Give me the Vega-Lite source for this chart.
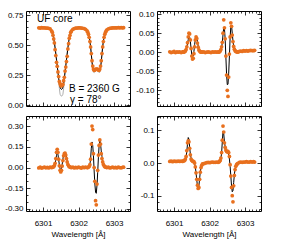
{
"$schema": "https://vega.github.io/schema/vega-lite/v6.json",
"padding": {"left": 4, "top": 9, "right": 0, "bottom": 0},
"background": "white",
"config": {
 "view": {"stroke": "black", "strokeWidth": 1},
 "axis": {"domain": false, "grid": false, "tickColor": "black", "tickWidth": 0.8, "labelFont": "Liberation Sans", "labelFontSize": 8, "labelColor": "black", "titleFont": "Liberation Sans", "titleFontSize": 8, "titleFontWeight": "normal", "titleColor": "black", "labelOverlap": false, "labelFlush": false}
},
"datasets": {
 "I": [
  {"w":6300.88,"o":0.645,"f":0.646,"g":0.652},{"w":6300.92,"o":0.643,"f":0.646,"g":0.652},{"w":6300.96,"o":0.646,"f":0.645,"g":0.651},{"w":6301.00,"o":0.644,"f":0.645,"g":0.651},{"w":6301.04,"o":0.645,"f":0.644,"g":0.65},{"w":6301.08,"o":0.643,"f":0.644,"g":0.65},{"w":6301.12,"o":0.642,"f":0.643,"g":0.649},{"w":6301.16,"o":0.641,"f":0.641,"g":0.647},{"w":6301.20,"o":0.635,"f":0.636,"g":0.642},{"w":6301.24,"o":0.62,"f":0.625,"g":0.632},
  {"w":6301.26,"o":0.608,"f":0.61,"g":0.618},{"w":6301.28,"o":0.583,"f":0.59,"g":0.6},{"w":6301.30,"o":0.552,"f":0.56,"g":0.57},{"w":6301.32,"o":0.518,"f":0.52,"g":0.535},{"w":6301.34,"o":0.462,"f":0.475,"g":0.49},{"w":6301.36,"o":0.413,"f":0.425,"g":0.44},{"w":6301.38,"o":0.357,"f":0.375,"g":0.385},{"w":6301.40,"o":0.323,"f":0.325,"g":0.33},{"w":6301.42,"o":0.276,"f":0.275,"g":0.275},{"w":6301.44,"o":0.238,"f":0.225,"g":0.21},{"w":6301.46,"o":0.197,"f":0.18,"g":0.14},{"w":6301.48,"o":0.178,"f":0.15,"g":0.09},{"w":6301.50,"o":0.163,"f":0.135,"g":0.078},{"w":6301.52,"o":0.16,"f":0.13,"g":0.075},{"w":6301.54,"o":0.168,"f":0.135,"g":0.078},{"w":6301.56,"o":0.172,"f":0.15,"g":0.09},{"w":6301.58,"o":0.203,"f":0.18,"g":0.14},{"w":6301.60,"o":0.232,"f":0.225,"g":0.21},{"w":6301.62,"o":0.284,"f":0.275,"g":0.275},{"w":6301.64,"o":0.317,"f":0.325,"g":0.33},{"w":6301.66,"o":0.363,"f":0.375,"g":0.385},{"w":6301.68,"o":0.407,"f":0.425,"g":0.44},{"w":6301.70,"o":0.468,"f":0.475,"g":0.49},{"w":6301.72,"o":0.512,"f":0.52,"g":0.535},{"w":6301.74,"o":0.558,"f":0.56,"g":0.57},{"w":6301.76,"o":0.582,"f":0.59,"g":0.6},{"w":6301.78,"o":0.607,"f":0.61,"g":0.618},{"w":6301.80,"o":0.618,"f":0.625,"g":0.632},
  {"w":6301.84,"o":0.632,"f":0.636,"g":0.642},{"w":6301.88,"o":0.638,"f":0.64,"g":0.647},{"w":6301.92,"o":0.642,"f":0.643,"g":0.65},{"w":6301.96,"o":0.643,"f":0.644,"g":0.651},{"w":6302.00,"o":0.645,"f":0.645,"g":0.652},{"w":6302.04,"o":0.644,"f":0.645,"g":0.652},{"w":6302.08,"o":0.643,"f":0.644,"g":0.651},{"w":6302.12,"o":0.641,"f":0.642,"g":0.649},{"w":6302.16,"o":0.638,"f":0.639,"g":0.646},{"w":6302.20,"o":0.632,"f":0.633,"g":0.64},{"w":6302.24,"o":0.62,"f":0.622,"g":0.628},
  {"w":6302.26,"o":0.608,"f":0.61,"g":0.615},{"w":6302.28,"o":0.59,"f":0.592,"g":0.6},{"w":6302.30,"o":0.565,"f":0.567,"g":0.575},{"w":6302.32,"o":0.53,"f":0.532,"g":0.54},{"w":6302.34,"o":0.485,"f":0.485,"g":0.49},{"w":6302.36,"o":0.43,"f":0.425,"g":0.425},{"w":6302.38,"o":0.37,"f":0.36,"g":0.35},{"w":6302.40,"o":0.325,"f":0.315,"g":0.3},{"w":6302.42,"o":0.3,"f":0.292,"g":0.275},{"w":6302.44,"o":0.29,"f":0.285,"g":0.27},{"w":6302.46,"o":0.292,"f":0.29,"g":0.28},{"w":6302.48,"o":0.298,"f":0.298,"g":0.29},{"w":6302.50,"o":0.3,"f":0.302,"g":0.295},{"w":6302.52,"o":0.3,"f":0.302,"g":0.295},{"w":6302.54,"o":0.298,"f":0.298,"g":0.29},{"w":6302.56,"o":0.292,"f":0.29,"g":0.28},{"w":6302.58,"o":0.29,"f":0.285,"g":0.27},{"w":6302.60,"o":0.3,"f":0.292,"g":0.275},{"w":6302.62,"o":0.325,"f":0.315,"g":0.3},{"w":6302.64,"o":0.37,"f":0.36,"g":0.35},{"w":6302.66,"o":0.43,"f":0.425,"g":0.425},{"w":6302.68,"o":0.485,"f":0.485,"g":0.49},{"w":6302.70,"o":0.53,"f":0.532,"g":0.54},{"w":6302.72,"o":0.565,"f":0.567,"g":0.575},{"w":6302.74,"o":0.59,"f":0.592,"g":0.6},{"w":6302.76,"o":0.608,"f":0.61,"g":0.615},{"w":6302.78,"o":0.62,"f":0.622,"g":0.628},{"w":6302.80,"o":0.628,"f":0.63,"g":0.635},
  {"w":6302.84,"o":0.636,"f":0.637,"g":0.643},{"w":6302.88,"o":0.64,"f":0.641,"g":0.648},{"w":6302.92,"o":0.642,"f":0.643,"g":0.651},{"w":6302.96,"o":0.644,"f":0.644,"g":0.653},{"w":6303.00,"o":0.645,"f":0.645,"g":0.654},{"w":6303.04,"o":0.644,"f":0.645,"g":0.655},{"w":6303.08,"o":0.645,"f":0.646,"g":0.655},{"w":6303.12,"o":0.646,"f":0.646,"g":0.656},{"w":6303.16,"o":0.645,"f":0.646,"g":0.656},{"w":6303.20,"o":0.646,"f":0.646,"g":0.656},{"w":6303.24,"o":0.645,"f":0.646,"g":0.656},{"w":6303.27,"o":0.646,"f":0.646,"g":0.656}
 ],
 "Q": [
  {"w":6300.88,"o":0.001,"f":0},{"w":6300.92,"o":-0.001,"f":0},{"w":6300.96,"o":0,"f":0},{"w":6301.00,"o":0.002,"f":0},{"w":6301.04,"o":-0.001,"f":0},{"w":6301.08,"o":0.001,"f":0},{"w":6301.12,"o":0,"f":0},{"w":6301.16,"o":0.001,"f":0},{"w":6301.20,"o":-0.001,"f":0},{"w":6301.24,"o":0.001,"f":0},
  {"w":6301.26,"o":0.001,"f":0},{"w":6301.28,"o":0,"f":0.001},{"w":6301.30,"o":0.002,"f":0.002},{"w":6301.32,"o":0.003,"f":0.004},{"w":6301.34,"o":0.007,"f":0.007},{"w":6301.36,"o":0.014,"f":0.013},{"w":6301.38,"o":0.025,"f":0.022},{"w":6301.40,"o":0.04,"f":0.033},{"w":6301.42,"o":0.05,"f":0.041},{"w":6301.44,"o":0.048,"f":0.04},{"w":6301.46,"o":0.032,"f":0.028},{"w":6301.48,"o":0.01,"f":0.01},{"w":6301.50,"o":-0.01,"f":-0.006},{"w":6301.52,"o":-0.018,"f":-0.012},{"w":6301.54,"o":-0.016,"f":-0.01},{"w":6301.56,"o":-0.004,"f":0.002},{"w":6301.58,"o":0.014,"f":0.02},{"w":6301.60,"o":0.032,"f":0.034},{"w":6301.62,"o":0.04,"f":0.041},{"w":6301.64,"o":0.036,"f":0.038},{"w":6301.66,"o":0.024,"f":0.028},{"w":6301.68,"o":0.013,"f":0.016},{"w":6301.70,"o":0.006,"f":0.008},{"w":6301.72,"o":0.003,"f":0.004},{"w":6301.74,"o":0.001,"f":0.002},{"w":6301.76,"o":0,"f":0.001},{"w":6301.78,"o":0.001,"f":0},{"w":6301.80,"o":0,"f":0},
  {"w":6301.84,"o":0.001,"f":0},{"w":6301.88,"o":-0.001,"f":0},{"w":6301.92,"o":0,"f":0},{"w":6301.96,"o":0.001,"f":0},{"w":6302.00,"o":0,"f":0},{"w":6302.04,"o":-0.001,"f":0},{"w":6302.08,"o":0.001,"f":0},{"w":6302.12,"o":0,"f":0},{"w":6302.16,"o":0.001,"f":0},{"w":6302.20,"o":0,"f":0},{"w":6302.24,"o":0.001,"f":0},
  {"w":6302.26,"o":0,"f":0},{"w":6302.28,"o":0.001,"f":0.001},{"w":6302.30,"o":0.003,"f":0.003},{"w":6302.32,"o":0.007,"f":0.006},{"w":6302.34,"o":0.014,"f":0.013},{"w":6302.36,"o":0.026,"f":0.025},{"w":6302.38,"o":0.05,"f":0.046},{"w":6302.40,"o":0.085,"f":0.064},{"w":6302.42,"o":0.064,"f":0.062},{"w":6302.44,"o":0.035,"f":0.035},{"w":6302.46,"o":-0.01,"f":-0.012},{"w":6302.48,"o":-0.06,"f":-0.058},{"w":6302.50,"o":-0.1,"f":-0.085},{"w":6302.52,"o":-0.116,"f":-0.084},{"w":6302.54,"o":-0.065,"f":-0.055},{"w":6302.56,"o":-0.005,"f":-0.01},{"w":6302.58,"o":0.04,"f":0.038},{"w":6302.60,"o":0.077,"f":0.068},{"w":6302.62,"o":0.068,"f":0.07},{"w":6302.64,"o":0.045,"f":0.05},{"w":6302.66,"o":0.028,"f":0.03},{"w":6302.68,"o":0.015,"f":0.016},{"w":6302.70,"o":0.008,"f":0.008},{"w":6302.72,"o":0.004,"f":0.004},{"w":6302.74,"o":0.002,"f":0.002},{"w":6302.76,"o":0.001,"f":0.001},{"w":6302.78,"o":0.001,"f":0},{"w":6302.80,"o":0,"f":0},
  {"w":6302.84,"o":0.002,"f":0.001},{"w":6302.88,"o":0.003,"f":0.002},{"w":6302.92,"o":0.002,"f":0.002},{"w":6302.96,"o":0.004,"f":0.003},{"w":6303.00,"o":0.003,"f":0.003},{"w":6303.04,"o":0.004,"f":0.003},{"w":6303.08,"o":0.003,"f":0.003},{"w":6303.12,"o":0.004,"f":0.004},{"w":6303.16,"o":0.005,"f":0.004},{"w":6303.20,"o":0.004,"f":0.004},{"w":6303.24,"o":0.004,"f":0.004},{"w":6303.27,"o":0.005,"f":0.004}
 ],
 "U": [
  {"w":6300.88,"o":-0.003,"f":0},{"w":6300.92,"o":0.002,"f":0},{"w":6300.96,"o":-0.004,"f":0},{"w":6301.00,"o":0,"f":0},{"w":6301.04,"o":0.003,"f":0},{"w":6301.08,"o":-0.002,"f":0},{"w":6301.12,"o":0.001,"f":0},{"w":6301.16,"o":-0.003,"f":0},{"w":6301.20,"o":0.002,"f":0},{"w":6301.24,"o":0,"f":0},
  {"w":6301.26,"o":0.001,"f":0},{"w":6301.28,"o":0.003,"f":0.002},{"w":6301.30,"o":0.006,"f":0.005},{"w":6301.32,"o":0.014,"f":0.012},{"w":6301.34,"o":0.03,"f":0.027},{"w":6301.36,"o":0.065,"f":0.055},{"w":6301.38,"o":0.11,"f":0.088},{"w":6301.40,"o":0.132,"f":0.106},{"w":6301.42,"o":0.11,"f":0.095},{"w":6301.44,"o":0.06,"f":0.058},{"w":6301.46,"o":0.012,"f":0.018},{"w":6301.48,"o":-0.02,"f":-0.008},{"w":6301.50,"o":-0.032,"f":-0.016},{"w":6301.52,"o":-0.02,"f":-0.004},{"w":6301.54,"o":0.01,"f":0.025},{"w":6301.56,"o":0.05,"f":0.062},{"w":6301.58,"o":0.085,"f":0.092},{"w":6301.60,"o":0.1,"f":0.108},{"w":6301.62,"o":0.105,"f":0.112},{"w":6301.64,"o":0.09,"f":0.1},{"w":6301.66,"o":0.065,"f":0.075},{"w":6301.68,"o":0.04,"f":0.048},{"w":6301.70,"o":0.022,"f":0.027},{"w":6301.72,"o":0.012,"f":0.014},{"w":6301.74,"o":0.006,"f":0.007},{"w":6301.76,"o":0.003,"f":0.003},{"w":6301.78,"o":0.001,"f":0.001},{"w":6301.80,"o":0,"f":0},
  {"w":6301.84,"o":0.002,"f":0},{"w":6301.88,"o":-0.003,"f":0},{"w":6301.92,"o":0.001,"f":0},{"w":6301.96,"o":-0.002,"f":0},{"w":6302.00,"o":0.003,"f":0},{"w":6302.04,"o":0,"f":0},{"w":6302.08,"o":-0.004,"f":0},{"w":6302.12,"o":0.002,"f":0},{"w":6302.16,"o":-0.001,"f":0},{"w":6302.20,"o":0.003,"f":0},{"w":6302.24,"o":0,"f":0},
  {"w":6302.26,"o":0,"f":0},{"w":6302.28,"o":0.003,"f":0.003},{"w":6302.30,"o":0.008,"f":0.008},{"w":6302.32,"o":0.02,"f":0.022},{"w":6302.34,"o":0.06,"f":0.062},{"w":6302.36,"o":0.17,"f":0.14},{"w":6302.38,"o":0.3,"f":0.185},{"w":6302.40,"o":0.275,"f":0.16},{"w":6302.42,"o":0.1,"f":0.085},{"w":6302.44,"o":0,"f":-0.025},{"w":6302.46,"o":-0.1,"f":-0.12},{"w":6302.48,"o":-0.24,"f":-0.178},{"w":6302.50,"o":-0.27,"f":-0.187},{"w":6302.52,"o":-0.12,"f":-0.13},{"w":6302.54,"o":-0.02,"f":-0.035},{"w":6302.56,"o":0.09,"f":0.075},{"w":6302.58,"o":0.16,"f":0.16},{"w":6302.60,"o":0.2,"f":0.195},{"w":6302.62,"o":0.17,"f":0.172},{"w":6302.64,"o":0.1,"f":0.12},{"w":6302.66,"o":0.065,"f":0.08},{"w":6302.68,"o":0.04,"f":0.05},{"w":6302.70,"o":0.022,"f":0.026},{"w":6302.72,"o":0.012,"f":0.013},{"w":6302.74,"o":0.006,"f":0.006},{"w":6302.76,"o":0.003,"f":0.003},{"w":6302.78,"o":0.001,"f":0.001},{"w":6302.80,"o":0,"f":0},
  {"w":6302.84,"o":0.002,"f":0},{"w":6302.88,"o":-0.003,"f":0},{"w":6302.92,"o":0,"f":0},{"w":6302.96,"o":0.003,"f":0},{"w":6303.00,"o":-0.002,"f":0},{"w":6303.04,"o":0.001,"f":0},{"w":6303.08,"o":-0.003,"f":0},{"w":6303.12,"o":0.002,"f":0},{"w":6303.16,"o":0,"f":0},{"w":6303.20,"o":-0.002,"f":0},{"w":6303.24,"o":0.001,"f":0},{"w":6303.27,"o":0.002,"f":0}
 ],
 "V": [
  {"w":6300.88,"o":0.005,"f":0.005},{"w":6300.92,"o":0.006,"f":0.005},{"w":6300.96,"o":0.004,"f":0.005},{"w":6301.00,"o":0.006,"f":0.005},{"w":6301.04,"o":0.005,"f":0.005},{"w":6301.08,"o":0.005,"f":0.005},{"w":6301.12,"o":0.006,"f":0.005},{"w":6301.16,"o":0.005,"f":0.005},{"w":6301.20,"o":0.006,"f":0.005},{"w":6301.24,"o":0.005,"f":0.005},
  {"w":6301.26,"o":0.006,"f":0.005},{"w":6301.28,"o":0.007,"f":0.006},{"w":6301.30,"o":0.008,"f":0.008},{"w":6301.32,"o":0.012,"f":0.011},{"w":6301.34,"o":0.02,"f":0.018},{"w":6301.36,"o":0.038,"f":0.035},{"w":6301.38,"o":0.062,"f":0.06},{"w":6301.40,"o":0.068,"f":0.078},{"w":6301.42,"o":0.065,"f":0.073},{"w":6301.44,"o":0.045,"f":0.048},{"w":6301.46,"o":0.025,"f":0.027},{"w":6301.48,"o":0.012,"f":0.016},{"w":6301.50,"o":0.008,"f":0.011},{"w":6301.52,"o":0.006,"f":0.008},{"w":6301.54,"o":0.005,"f":0.006},{"w":6301.56,"o":0.004,"f":0.003},{"w":6301.58,"o":0,"f":-0.002},{"w":6301.60,"o":-0.012,"f":-0.012},{"w":6301.62,"o":-0.03,"f":-0.03},{"w":6301.64,"o":-0.05,"f":-0.052},{"w":6301.66,"o":-0.068,"f":-0.07},{"w":6301.68,"o":-0.078,"f":-0.078},{"w":6301.70,"o":-0.075,"f":-0.07},{"w":6301.72,"o":-0.05,"f":-0.048},{"w":6301.74,"o":-0.028,"f":-0.027},{"w":6301.76,"o":-0.014,"f":-0.014},{"w":6301.78,"o":-0.007,"f":-0.007},{"w":6301.80,"o":-0.003,"f":-0.003},
  {"w":6301.84,"o":-0.002,"f":-0.001},{"w":6301.88,"o":0,"f":0},{"w":6301.92,"o":0.001,"f":0.001},{"w":6301.96,"o":0.002,"f":0.002},{"w":6302.00,"o":0.001,"f":0.002},{"w":6302.04,"o":0.002,"f":0.002},{"w":6302.08,"o":0.003,"f":0.002},{"w":6302.12,"o":0.002,"f":0.002},{"w":6302.16,"o":0.002,"f":0.002},{"w":6302.20,"o":0.003,"f":0.002},{"w":6302.24,"o":0.002,"f":0.003},
  {"w":6302.26,"o":0.003,"f":0.003},{"w":6302.28,"o":0.005,"f":0.005},{"w":6302.30,"o":0.008,"f":0.008},{"w":6302.32,"o":0.015,"f":0.015},{"w":6302.34,"o":0.032,"f":0.03},{"w":6302.36,"o":0.07,"f":0.065},{"w":6302.38,"o":0.113,"f":0.098},{"w":6302.40,"o":0.095,"f":0.09},{"w":6302.42,"o":0.062,"f":0.065},{"w":6302.44,"o":0.048,"f":0.05},{"w":6302.46,"o":0.04,"f":0.042},{"w":6302.48,"o":0.036,"f":0.038},{"w":6302.50,"o":0.034,"f":0.035},{"w":6302.52,"o":0.036,"f":0.032},{"w":6302.54,"o":0.032,"f":0.025},{"w":6302.56,"o":0.02,"f":0.012},{"w":6302.58,"o":-0.005,"f":-0.01},{"w":6302.60,"o":-0.04,"f":-0.04},{"w":6302.62,"o":-0.075,"f":-0.07},{"w":6302.64,"o":-0.1,"f":-0.088},{"w":6302.66,"o":-0.119,"f":-0.085},{"w":6302.68,"o":-0.07,"f":-0.06},{"w":6302.70,"o":-0.038,"f":-0.035},{"w":6302.72,"o":-0.02,"f":-0.018},{"w":6302.74,"o":-0.01,"f":-0.009},{"w":6302.76,"o":-0.005,"f":-0.005},{"w":6302.78,"o":-0.003,"f":-0.003},{"w":6302.80,"o":-0.001,"f":-0.001},
  {"w":6302.84,"o":0.002,"f":0},{"w":6302.88,"o":0.003,"f":0.001},{"w":6302.92,"o":0.002,"f":0.002},{"w":6302.96,"o":0.003,"f":0.002},{"w":6303.00,"o":0.003,"f":0.003},{"w":6303.04,"o":0.004,"f":0.003},{"w":6303.08,"o":0.003,"f":0.003},{"w":6303.12,"o":0.003,"f":0.003},{"w":6303.16,"o":0.004,"f":0.003},{"w":6303.20,"o":0.003,"f":0.003},{"w":6303.24,"o":0.004,"f":0.003},{"w":6303.27,"o":0.003,"f":0.003}
 ]
},
"columns": 2,
"spacing": {"row": 10, "column": 27},
"bounds": "flush",
"concat": [
 {
  "width": 104, "height": 95,
  "data": {"name": "I"},
  "layer": [
   {"mark": {"type": "line", "color": "#9a9a9a", "strokeWidth": 0.8},
    "encoding": {
     "x": {"field": "w", "type": "quantitative", "scale": {"domain": [6300.52, 6303.45], "nice": false, "zero": false}, "axis": {"orient": "bottom", "values": [6301, 6302, 6303], "tickSize": -4, "labels": false, "title": null}},
     "y": {"field": "g", "type": "quantitative", "scale": {"domain": [-0.008, 0.785], "nice": false, "zero": false}, "axis": {"orient": "left", "values": [0, 0.25, 0.5, 0.75], "tickSize": -4, "format": ".2f", "labelPadding": 7, "title": null}}}},
   {"mark": {"type": "line", "color": "black", "strokeWidth": 1},
    "encoding": {
     "x": {"field": "w", "type": "quantitative", "axis": {"orient": "top", "values": [6301, 6302, 6303], "tickSize": -4, "labels": false, "title": null}},
     "y": {"field": "f", "type": "quantitative", "axis": {"orient": "right", "values": [0, 0.25, 0.5, 0.75], "tickSize": -4, "labels": false, "title": null}}}},
   {"mark": {"type": "circle", "color": "#e8701e", "size": 14, "opacity": 1},
    "encoding": {
     "x": {"field": "w", "type": "quantitative", "axis": {"orient": "bottom", "values": [6300.6,6300.7,6300.8,6300.9,6301.1,6301.2,6301.3,6301.4,6301.5,6301.6,6301.7,6301.8,6301.9,6302.1,6302.2,6302.3,6302.4,6302.5,6302.6,6302.7,6302.8,6302.9,6303.1,6303.2,6303.3,6303.4], "tickSize": -2, "labels": false, "title": null}},
     "y": {"field": "o", "type": "quantitative", "axis": {"orient": "left", "values": [0.05,0.1,0.15,0.2,0.3,0.35,0.4,0.45,0.55,0.6,0.65,0.7], "tickSize": -2, "labels": false, "title": null}}}},
   {"data": {"values": [{"w": 6300.83, "v": 0.72, "t": "UF core"}, {"w": 6301.73, "v": 0.135, "t": "B = 2360 G"}, {"w": 6301.76, "v": 0.04, "t": "γ = 78°"}]},
    "mark": {"type": "text", "align": "left", "baseline": "middle", "fontSize": 10, "font": "Liberation Sans", "color": "black"},
    "encoding": {
     "x": {"field": "w", "type": "quantitative", "axis": {"orient": "top", "values": [6300.6,6300.7,6300.8,6300.9,6301.1,6301.2,6301.3,6301.4,6301.5,6301.6,6301.7,6301.8,6301.9,6302.1,6302.2,6302.3,6302.4,6302.5,6302.6,6302.7,6302.8,6302.9,6303.1,6303.2,6303.3,6303.4], "tickSize": -2, "labels": false, "title": null}},
     "y": {"field": "v", "type": "quantitative", "axis": {"orient": "right", "values": [0.05,0.1,0.15,0.2,0.3,0.35,0.4,0.45,0.55,0.6,0.65,0.7], "tickSize": -2, "labels": false, "title": null}},
     "text": {"field": "t"}}}
  ],
  "resolve": {"axis": {"x": "independent", "y": "independent"}}
 },
 {
  "width": 104, "height": 95,
  "data": {"name": "Q"},
  "layer": [
   {"mark": {"type": "line", "color": "black", "strokeWidth": 1},
    "encoding": {
     "x": {"field": "w", "type": "quantitative", "scale": {"domain": [6300.52, 6303.45], "nice": false, "zero": false}, "axis": {"orient": "bottom", "values": [6301, 6302, 6303], "tickSize": -4, "labels": false, "title": null}},
     "y": {"field": "f", "type": "quantitative", "scale": {"domain": [-0.141, 0.108], "nice": false, "zero": false}, "axis": {"orient": "left", "values": [-0.1, -0.05, 0, 0.05, 0.1], "tickSize": -4, "format": ".2f", "labelExpr": "replace(datum.label, '−', '-')", "labelPadding": 7, "title": null}}}},
   {"mark": {"type": "circle", "color": "#e8701e", "size": 14, "opacity": 1},
    "encoding": {
     "x": {"field": "w", "type": "quantitative", "axis": {"orient": "top", "values": [6301, 6302, 6303], "tickSize": -4, "labels": false, "title": null}},
     "y": {"field": "o", "type": "quantitative", "axis": {"orient": "right", "values": [-0.1, -0.05, 0, 0.05, 0.1], "tickSize": -4, "labels": false, "title": null}}}},
   {"mark": {"type": "circle", "opacity": 0},
    "encoding": {
     "x": {"field": "w", "type": "quantitative", "axis": {"orient": "bottom", "values": [6300.6,6300.7,6300.8,6300.9,6301.1,6301.2,6301.3,6301.4,6301.5,6301.6,6301.7,6301.8,6301.9,6302.1,6302.2,6302.3,6302.4,6302.5,6302.6,6302.7,6302.8,6302.9,6303.1,6303.2,6303.3,6303.4], "tickSize": -2, "labels": false, "title": null}},
     "y": {"field": "f", "type": "quantitative", "axis": {"orient": "left", "values": [-0.14,-0.13,-0.12,-0.11,-0.09,-0.08,-0.07,-0.06,-0.04,-0.03,-0.02,-0.01,0.01,0.02,0.03,0.04,0.06,0.07,0.08,0.09], "tickSize": -2, "labels": false, "title": null}}}},
   {"mark": {"type": "circle", "opacity": 0},
    "encoding": {
     "x": {"field": "w", "type": "quantitative", "axis": {"orient": "top", "values": [6300.6,6300.7,6300.8,6300.9,6301.1,6301.2,6301.3,6301.4,6301.5,6301.6,6301.7,6301.8,6301.9,6302.1,6302.2,6302.3,6302.4,6302.5,6302.6,6302.7,6302.8,6302.9,6303.1,6303.2,6303.3,6303.4], "tickSize": -2, "labels": false, "title": null}},
     "y": {"field": "f", "type": "quantitative", "axis": {"orient": "right", "values": [-0.14,-0.13,-0.12,-0.11,-0.09,-0.08,-0.07,-0.06,-0.04,-0.03,-0.02,-0.01,0.01,0.02,0.03,0.04,0.06,0.07,0.08,0.09], "tickSize": -2, "labels": false, "title": null}}}}
  ],
  "resolve": {"axis": {"x": "independent", "y": "independent"}}
 },
 {
  "width": 104, "height": 95,
  "data": {"name": "U"},
  "layer": [
   {"mark": {"type": "line", "color": "black", "strokeWidth": 1},
    "encoding": {
     "x": {"field": "w", "type": "quantitative", "scale": {"domain": [6300.52, 6303.45], "nice": false, "zero": false}, "axis": {"orient": "bottom", "values": [6301, 6302, 6303], "tickSize": -4, "format": "d", "labelPadding": 12, "title": "Wavelength [Å]", "titlePadding": 3}},
     "y": {"field": "f", "type": "quantitative", "scale": {"domain": [-0.315, 0.373], "nice": false, "zero": false}, "axis": {"orient": "left", "values": [-0.3, -0.15, 0, 0.15, 0.3], "tickSize": -4, "format": ".2f", "labelExpr": "replace(datum.label, '−', '-')", "labelPadding": 7, "title": null}}}},
   {"mark": {"type": "circle", "color": "#e8701e", "size": 14, "opacity": 1},
    "encoding": {
     "x": {"field": "w", "type": "quantitative", "axis": {"orient": "top", "values": [6301, 6302, 6303], "tickSize": -4, "labels": false, "title": null}},
     "y": {"field": "o", "type": "quantitative", "axis": {"orient": "right", "values": [-0.3, -0.15, 0, 0.15, 0.3], "tickSize": -4, "labels": false, "title": null}}}},
   {"mark": {"type": "circle", "opacity": 0},
    "encoding": {
     "x": {"field": "w", "type": "quantitative", "axis": {"orient": "bottom", "values": [6300.6,6300.7,6300.8,6300.9,6301.1,6301.2,6301.3,6301.4,6301.5,6301.6,6301.7,6301.8,6301.9,6302.1,6302.2,6302.3,6302.4,6302.5,6302.6,6302.7,6302.8,6302.9,6303.1,6303.2,6303.3,6303.4], "tickSize": -2, "labels": false, "title": null}},
     "y": {"field": "f", "type": "quantitative", "axis": {"orient": "left", "values": [-0.25,-0.2,-0.1,-0.05,0.05,0.1,0.2,0.25,0.35], "tickSize": -2, "labels": false, "title": null}}}},
   {"mark": {"type": "circle", "opacity": 0},
    "encoding": {
     "x": {"field": "w", "type": "quantitative", "axis": {"orient": "top", "values": [6300.6,6300.7,6300.8,6300.9,6301.1,6301.2,6301.3,6301.4,6301.5,6301.6,6301.7,6301.8,6301.9,6302.1,6302.2,6302.3,6302.4,6302.5,6302.6,6302.7,6302.8,6302.9,6303.1,6303.2,6303.3,6303.4], "tickSize": -2, "labels": false, "title": null}},
     "y": {"field": "f", "type": "quantitative", "axis": {"orient": "right", "values": [-0.25,-0.2,-0.1,-0.05,0.05,0.1,0.2,0.25,0.35], "tickSize": -2, "labels": false, "title": null}}}}
  ],
  "resolve": {"axis": {"x": "independent", "y": "independent"}}
 },
 {
  "width": 104, "height": 95,
  "data": {"name": "V"},
  "layer": [
   {"mark": {"type": "line", "color": "black", "strokeWidth": 1},
    "encoding": {
     "x": {"field": "w", "type": "quantitative", "scale": {"domain": [6300.52, 6303.45], "nice": false, "zero": false}, "axis": {"orient": "bottom", "values": [6301, 6302, 6303], "tickSize": -4, "format": "d", "labelPadding": 12, "title": "Wavelength [Å]", "titlePadding": 3}},
     "y": {"field": "f", "type": "quantitative", "scale": {"domain": [-0.147, 0.144], "nice": false, "zero": false}, "axis": {"orient": "left", "values": [-0.1, 0, 0.1], "tickSize": -4, "format": ".1f", "labelExpr": "replace(datum.label, '−', '-')", "labelPadding": 7, "title": null}}}},
   {"mark": {"type": "circle", "color": "#e8701e", "size": 14, "opacity": 1},
    "encoding": {
     "x": {"field": "w", "type": "quantitative", "axis": {"orient": "top", "values": [6301, 6302, 6303], "tickSize": -4, "labels": false, "title": null}},
     "y": {"field": "o", "type": "quantitative", "axis": {"orient": "right", "values": [-0.1, 0, 0.1], "tickSize": -4, "labels": false, "title": null}}}},
   {"mark": {"type": "circle", "opacity": 0},
    "encoding": {
     "x": {"field": "w", "type": "quantitative", "axis": {"orient": "bottom", "values": [6300.6,6300.7,6300.8,6300.9,6301.1,6301.2,6301.3,6301.4,6301.5,6301.6,6301.7,6301.8,6301.9,6302.1,6302.2,6302.3,6302.4,6302.5,6302.6,6302.7,6302.8,6302.9,6303.1,6303.2,6303.3,6303.4], "tickSize": -2, "labels": false, "title": null}},
     "y": {"field": "f", "type": "quantitative", "axis": {"orient": "left", "values": [-0.14,-0.12,-0.08,-0.06,-0.04,-0.02,0.02,0.04,0.06,0.08,0.12,0.14], "tickSize": -2, "labels": false, "title": null}}}},
   {"mark": {"type": "circle", "opacity": 0},
    "encoding": {
     "x": {"field": "w", "type": "quantitative", "axis": {"orient": "top", "values": [6300.6,6300.7,6300.8,6300.9,6301.1,6301.2,6301.3,6301.4,6301.5,6301.6,6301.7,6301.8,6301.9,6302.1,6302.2,6302.3,6302.4,6302.5,6302.6,6302.7,6302.8,6302.9,6303.1,6303.2,6303.3,6303.4], "tickSize": -2, "labels": false, "title": null}},
     "y": {"field": "f", "type": "quantitative", "axis": {"orient": "right", "values": [-0.14,-0.12,-0.08,-0.06,-0.04,-0.02,0.02,0.04,0.06,0.08,0.12,0.14], "tickSize": -2, "labels": false, "title": null}}}}
  ],
  "resolve": {"axis": {"x": "independent", "y": "independent"}}
 }
]
}
